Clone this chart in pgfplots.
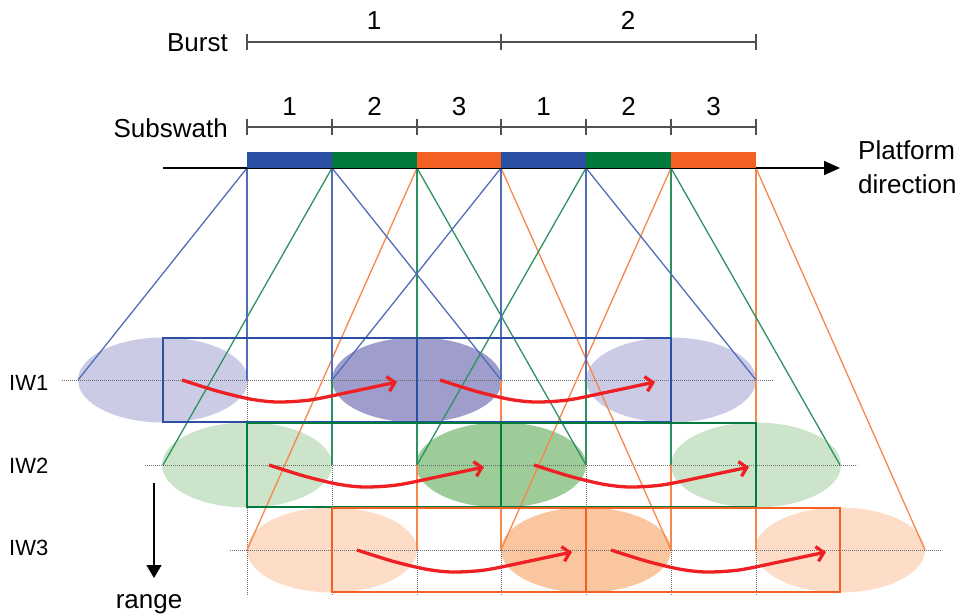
\documentclass[border=0pt]{standalone}
\usepackage{pgfplots}
\pgfplotsset{compat=1.18}
\usepackage{fontspec}
\setmainfont{Liberation Sans}
\usetikzlibrary{arrows.meta}
\newcommand{\fs}{\fontsize{26bp}{30bp}\selectfont}
\newcommand{\fsi}{\fontsize{22bp}{26bp}\selectfont}
\definecolor{bbar}{HTML}{2B4FA2}
\definecolor{gbar}{HTML}{007A3D}
\definecolor{obar}{HTML}{F26122}
\definecolor{bl}{HTML}{4F6DB8}
\definecolor{gl}{HTML}{2E9160}
\definecolor{ol}{HTML}{F5874A}
\definecolor{pL}{HTML}{CCCBE6}
\definecolor{pD}{HTML}{9F9DCB}
\definecolor{gL}{HTML}{CBE4CA}
\definecolor{gD}{HTML}{9DCC99}
\definecolor{oL}{HTML}{FDDDC8}
\definecolor{oD}{HTML}{FAC69F}
\definecolor{redA}{HTML}{EE2024}
\definecolor{dg}{HTML}{505050}
\begin{document}
\begin{tikzpicture}
\begin{axis}[width=962bp,height=616bp,scale only axis,xmin=0,xmax=962,ymin=0,ymax=616,y dir=reverse,hide axis,clip=false]
\path (axis cs:0,0) rectangle (axis cs:962,616);
% ellipses
\fill[pL] (axis cs:163,380) ellipse [x radius=85bp, y radius=42.5bp];
\fill[pD] (axis cs:417,380) ellipse [x radius=85bp, y radius=42.5bp];
\fill[pL] (axis cs:671,380) ellipse [x radius=85bp, y radius=42.5bp];
\fill[gL] (axis cs:247,465) ellipse [x radius=85bp, y radius=42.5bp];
\fill[gD] (axis cs:501,465) ellipse [x radius=85bp, y radius=42.5bp];
\fill[gL] (axis cs:756,465) ellipse [x radius=85bp, y radius=42.5bp];
\fill[oL] (axis cs:332,550) ellipse [x radius=85bp, y radius=42.5bp];
\fill[oD] (axis cs:586,550) ellipse [x radius=85bp, y radius=42.5bp];
\fill[oL] (axis cs:840,550) ellipse [x radius=85bp, y radius=42.5bp];
% dotted guides
\pgfplotsset{dotg/.style={gray!85!black, line width=0.9bp, dash pattern=on 1bp off 1bp}}
\addplot[dotg] coordinates {(62,380) (773,380)};
\addplot[dotg] coordinates {(145,465) (857,465)};
\addplot[dotg] coordinates {(230,550) (942,550)};
\addplot[dotg] coordinates {(247,380) (247,595)};
\addplot[dotg] coordinates {(332,380) (332,595)};
\addplot[dotg] coordinates {(417,380) (417,595)};
\addplot[dotg] coordinates {(501,380) (501,595)};
\addplot[dotg] coordinates {(586,380) (586,595)};
\addplot[dotg] coordinates {(671,380) (671,595)};
\addplot[dotg] coordinates {(756,380) (756,595)};
% orange lines
\addplot[ol, line width=1.3bp] coordinates {(417,168) (247,550)};
\addplot[ol, line width=1.3bp] coordinates {(417,168) (417,550)};
\addplot[ol, line width=1.3bp] coordinates {(501,168) (501,550)};
\addplot[ol, line width=1.3bp] coordinates {(501,168) (671,550)};
\addplot[ol, line width=1.3bp] coordinates {(671,168) (501,550)};
\addplot[ol, line width=1.3bp] coordinates {(671,168) (671,550)};
\addplot[ol, line width=1.3bp] coordinates {(756,168) (756,550)};
\addplot[ol, line width=1.3bp] coordinates {(756,168) (925,550)};
% green lines
\addplot[gl, line width=1.3bp] coordinates {(332,168) (163,465)};
\addplot[gl, line width=1.3bp] coordinates {(332,168) (332,465)};
\addplot[gl, line width=1.3bp] coordinates {(417,168) (417,465)};
\addplot[gl, line width=1.3bp] coordinates {(417,168) (586,465)};
\addplot[gl, line width=1.3bp] coordinates {(586,168) (417,465)};
\addplot[gl, line width=1.3bp] coordinates {(586,168) (586,465)};
\addplot[gl, line width=1.3bp] coordinates {(671,168) (671,465)};
\addplot[gl, line width=1.3bp] coordinates {(671,168) (840,465)};
% blue lines
\addplot[bl, line width=1.3bp] coordinates {(247,168) (78,380)};
\addplot[bl, line width=1.3bp] coordinates {(247,168) (247,380)};
\addplot[bl, line width=1.3bp] coordinates {(332,168) (332,380)};
\addplot[bl, line width=1.3bp] coordinates {(332,168) (501,380)};
\addplot[bl, line width=1.3bp] coordinates {(501,168) (332,380)};
\addplot[bl, line width=1.3bp] coordinates {(501,168) (501,380)};
\addplot[bl, line width=1.3bp] coordinates {(586,168) (586,380)};
\addplot[bl, line width=1.3bp] coordinates {(586,168) (756,380)};
% rectangles
\addplot[bbar, line width=2.5bp] coordinates {(163,338) (671,338) (671,422) (163,422)} -- cycle;
\addplot[bbar, line width=2.5bp] coordinates {(417,338) (417,422)};
\addplot[gbar, line width=2.5bp] coordinates {(247,423) (756,423) (756,507) (247,507)} -- cycle;
\addplot[gbar, line width=2.5bp] coordinates {(501,423) (501,507)};
\addplot[obar, line width=2.5bp] coordinates {(332,508) (840,508) (840,592) (332,592)} -- cycle;
\addplot[obar, line width=2.5bp] coordinates {(586,508) (586,592)};
% red arrows
\pgfplotsset{ra/.style={redA, line width=3.3bp, smooth, -{Straight Barb[length=7bp,width=15bp]}}}
\addplot[ra] coordinates {(182,380)(217,391)(250,399)(277,402)(310,400)(350,392)(397,382)};
\addplot[ra] coordinates {(440,380)(475,391)(508,399)(535,402)(568,400)(608,392)(655,382)};
\addplot[ra] coordinates {(269,465)(304,476)(337,484)(364,487)(397,485)(437,477)(484,467)};
\addplot[ra] coordinates {(534,465)(569,476)(602,484)(629,487)(662,485)(702,477)(749,467)};
\addplot[ra] coordinates {(357,550)(392,561)(425,569)(452,572)(485,570)(525,562)(572,552)};
\addplot[ra] coordinates {(611,550)(646,561)(679,569)(706,572)(739,570)(779,562)(826,552)};
% platform axis
\addplot[black, line width=1.5bp, -{Triangle[length=16bp,width=14bp]}] coordinates {(163,168) (840,168)};
\addplot[fill=bbar, draw=none] coordinates {(247,152) (332,152) (332,168) (247,168)} -- cycle;
\addplot[fill=gbar, draw=none] coordinates {(332,152) (417,152) (417,168) (332,168)} -- cycle;
\addplot[fill=obar, draw=none] coordinates {(417,152) (501,152) (501,168) (417,168)} -- cycle;
\addplot[fill=bbar, draw=none] coordinates {(501,152) (586,152) (586,168) (501,168)} -- cycle;
\addplot[fill=gbar, draw=none] coordinates {(586,152) (671,152) (671,168) (586,168)} -- cycle;
\addplot[fill=obar, draw=none] coordinates {(671,152) (756,152) (756,168) (671,168)} -- cycle;
% burst and subswath scales
\addplot[dg, line width=1.5bp] coordinates {(247,42) (756,42)};
\addplot[dg, line width=1.5bp] coordinates {(247,34) (247,50)};
\addplot[dg, line width=1.5bp] coordinates {(501,34) (501,50)};
\addplot[dg, line width=1.5bp] coordinates {(756,34) (756,50)};
\addplot[dg, line width=1.5bp] coordinates {(247,127) (756,127)};
\addplot[dg, line width=1.5bp] coordinates {(247,119) (247,135)};
\addplot[dg, line width=1.5bp] coordinates {(332,119) (332,135)};
\addplot[dg, line width=1.5bp] coordinates {(417,119) (417,135)};
\addplot[dg, line width=1.5bp] coordinates {(501,119) (501,135)};
\addplot[dg, line width=1.5bp] coordinates {(586,119) (586,135)};
\addplot[dg, line width=1.5bp] coordinates {(671,119) (671,135)};
\addplot[dg, line width=1.5bp] coordinates {(756,119) (756,135)};
% range arrow
\addplot[black, line width=1.3bp, -{Triangle[length=13bp,width=15bp]}] coordinates {(154,483) (154,578)};
% texts
\node[anchor=base east, inner sep=0pt, font=\fs] at (axis cs:228,52) {Burst};
\node[anchor=base, inner sep=0pt, font=\fs] at (axis cs:374,30) {1};
\node[anchor=base, inner sep=0pt, font=\fs] at (axis cs:628,30) {2};
\node[anchor=base east, inner sep=0pt, font=\fs] at (axis cs:228,137) {Subswath};
\node[anchor=base, inner sep=0pt, font=\fs] at (axis cs:289.5,115) {1};
\node[anchor=base, inner sep=0pt, font=\fs] at (axis cs:374.5,115) {2};
\node[anchor=base, inner sep=0pt, font=\fs] at (axis cs:459,115) {3};
\node[anchor=base, inner sep=0pt, font=\fs] at (axis cs:543.5,115) {1};
\node[anchor=base, inner sep=0pt, font=\fs] at (axis cs:628.5,115) {2};
\node[anchor=base, inner sep=0pt, font=\fs] at (axis cs:713.5,115) {3};
\node[anchor=base west, inner sep=0pt, font=\fs] at (axis cs:858,159) {Platform};
\node[anchor=base west, inner sep=0pt, font=\fs] at (axis cs:858,193) {direction};
\node[anchor=base, inner sep=0pt, font=\fs] at (axis cs:149,608) {range};
\node[anchor=base west, inner sep=0pt, font=\fsi] at (axis cs:9,390) {IW1};
\node[anchor=base west, inner sep=0pt, font=\fsi] at (axis cs:9,473) {IW2};
\node[anchor=base west, inner sep=0pt, font=\fsi] at (axis cs:9,555) {IW3};
\end{axis}
\end{tikzpicture}
\end{document}
